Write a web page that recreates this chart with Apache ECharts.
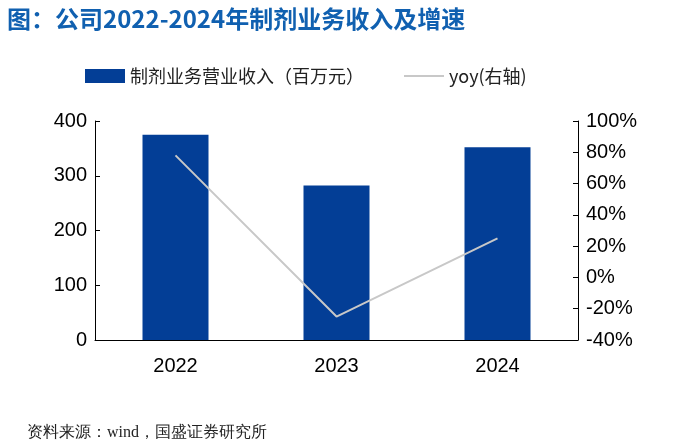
<!DOCTYPE html><html><head><meta charset="utf-8"><script src="https://cdn.jsdelivr.net/npm/echarts@6/dist/echarts.min.js"></script></head><body style="margin:0"><div id="c" style="width:685px;height:448px"></div><script>
const categories=['2022','2023','2024'];
const revenue=[375,282,352];
const yoy=[78,-25,25];
const c=echarts.init(document.getElementById('c'));
c.setOption({
animation:false,
title:[{text:'图：公司2022-2024年制剂业务收入及增速',left:2,top:2,textStyle:{color:'#1060b0',fontSize:24,fontWeight:'bold',fontFamily:'Noto Sans CJK SC'}},
{text:'资料来源：wind，国盛证券研究所',left:22,top:420,textStyle:{color:'#222',fontSize:16,fontWeight:'normal',fontFamily:'serif'}}],
legend:{top:62,left:80,itemGap:40,textStyle:{fontSize:18,color:'#222',fontFamily:'Noto Sans CJK SC'},
data:[{name:'制剂业务营业收入（百万元）',icon:'rect'},{name:'yoy(右轴)',icon:'path://M0,6L40,6L40,8L0,8Z'}],itemWidth:40,itemHeight:14},
grid:{left:95,right:107,top:121,bottom:108},
xAxis:{type:'category',data:categories,axisTick:{show:false},axisLine:{lineStyle:{color:'#000'}},axisLabel:{fontSize:20,color:'#000',margin:16}},
yAxis:[{type:'value',min:0,max:400,interval:100,splitLine:{show:false},axisLine:{show:true,lineStyle:{color:'#000'}},axisTick:{show:true,inside:true},axisLabel:{fontSize:20,color:'#000'}},
{type:'value',min:-40,max:100,interval:20,splitLine:{show:false},axisLine:{show:true,lineStyle:{color:'#000'}},axisTick:{show:true,inside:true},axisLabel:{fontSize:20,color:'#000',formatter:'{value}%'}}],
series:[{name:'制剂业务营业收入（百万元）',type:'bar',data:revenue,barWidth:66,itemStyle:{color:'#033e96'}},
{name:'yoy(右轴)',type:'line',yAxisIndex:1,data:yoy,symbol:'none',lineStyle:{color:'#c8c8c8',width:2},itemStyle:{color:'#c8c8c8'}}]
});
</script></body></html>
